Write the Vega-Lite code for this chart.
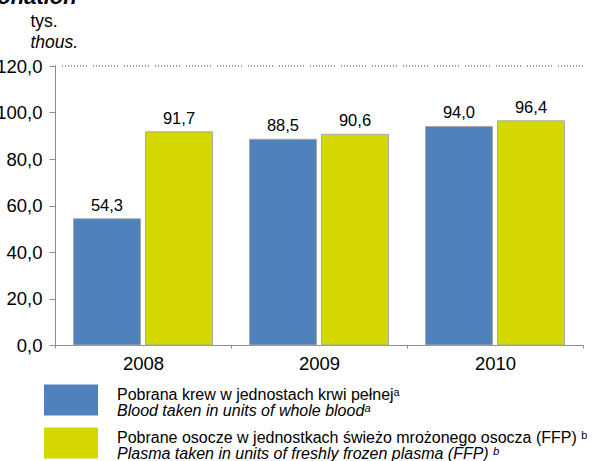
{
  "$schema": "https://vega.github.io/schema/vega-lite/v6.json",
  "width": 528,
  "height": 279,
  "autosize": {"type": "none"},
  "padding": {"left": 55, "top": 66, "right": 10, "bottom": 116},
  "title": {
    "text": "Blood donation",
    "anchor": "start",
    "align": "right",
    "dx": 81,
    "dy": -3,
    "offset": 0,
    "font": "Liberation Sans",
    "fontSize": 22,
    "fontWeight": "bold",
    "fontStyle": "italic",
    "color": "#000000"
  },
  "data": {
    "values": [
      {"year": "2008", "pl": "Pobrana krew w jednostach krwi pełnejᵃ", "en": "Blood taken in units of whole bloodᵃ", "value": 54.3},
      {"year": "2008", "pl": "Pobrane osocze w jednostkach świeżo mrożonego osocza  (FFP) ᵇ", "en": "Plasma taken in units of freshly frozen plasma (FFP) ᵇ", "value": 91.7},
      {"year": "2009", "pl": "Pobrana krew w jednostach krwi pełnejᵃ", "en": "Blood taken in units of whole bloodᵃ", "value": 88.5},
      {"year": "2009", "pl": "Pobrane osocze w jednostkach świeżo mrożonego osocza  (FFP) ᵇ", "en": "Plasma taken in units of freshly frozen plasma (FFP) ᵇ", "value": 90.6},
      {"year": "2010", "pl": "Pobrana krew w jednostach krwi pełnejᵃ", "en": "Blood taken in units of whole bloodᵃ", "value": 94.0},
      {"year": "2010", "pl": "Pobrane osocze w jednostkach świeżo mrożonego osocza  (FFP) ᵇ", "en": "Plasma taken in units of freshly frozen plasma (FFP) ᵇ", "value": 96.4}
    ]
  },
  "encoding": {
    "x": {
      "field": "year",
      "type": "nominal",
      "scale": {"paddingInner": 0, "paddingOuter": 0},
      "axis": {
        "title": null,
        "labelAngle": 0,
        "labelFont": "Liberation Sans",
        "labelFontSize": 18.5,
        "labelColor": "#000000",
        "labelPadding": 6,
        "tickBand": "extent",
        "tickSize": 3,
        "tickColor": "#8c8c8c",
        "domainColor": "#8c8c8c"
      }
    },
    "xOffset": {
      "field": "pl",
      "type": "nominal",
      "sort": ["Pobrana krew w jednostach krwi pełnejᵃ", "Pobrane osocze w jednostkach świeżo mrożonego osocza  (FFP) ᵇ"],
      "scale": {"paddingInner": 0.07, "paddingOuter": 0.257}
    }
  },
  "layer": [
    {
      "mark": {"type": "rule", "color": "#9a9a9a", "strokeWidth": 1, "strokeDash": [1, 2, 1, 2, 1, 2, 1, 2, 1, 2, 1, 2, 1, 2, 1, 2, 1, 6]},
      "encoding": {
        "x": null,
        "xOffset": null,
        "y": {
          "datum": 120,
          "type": "quantitative",
          "scale": {"domain": [0, 120], "nice": false},
          "axis": {
            "orient": "left",
            "title": "thous.",
            "titleAngle": 0,
            "titleAlign": "left",
            "titleBaseline": "alphabetic",
            "titleX": -25,
            "titleY": -19,
            "titleFont": "Liberation Sans",
            "titleFontSize": 17.5,
            "titleFontWeight": "normal",
            "titleFontStyle": "italic",
            "titleColor": "#000000",
            "labels": false,
            "ticks": false,
            "domain": false,
            "grid": false
          }
        }
      }
    },
    {
      "mark": {"type": "bar", "stroke": "#a8a8a8", "strokeWidth": 1},
      "encoding": {
        "y": {
          "field": "value",
          "type": "quantitative",
          "scale": {"domain": [0, 120], "nice": false},
          "axis": {
            "orient": "left",
            "values": [0, 20, 40, 60, 80, 100, 120],
            "format": ".1f",
            "grid": false,
            "title": "tys.",
            "titleAngle": 0,
            "titleAlign": "left",
            "titleBaseline": "alphabetic",
            "titleX": -25,
            "titleY": -40,
            "titleFont": "Liberation Sans",
            "titleFontSize": 17.5,
            "titleFontWeight": "normal",
            "titleColor": "#000000",
            "labelFont": "Liberation Sans",
            "labelFontSize": 18.5,
            "labelColor": "#000000",
            "labelPadding": 7,
            "tickSize": 6,
            "tickColor": "#8c8c8c",
            "domainColor": "#8c8c8c"
          }
        },
        "color": {
          "field": "pl",
          "type": "nominal",
          "sort": ["Pobrana krew w jednostach krwi pełnejᵃ", "Pobrane osocze w jednostkach świeżo mrożonego osocza  (FFP) ᵇ"],
          "scale": {"range": ["#4f81bd", "#d4d700"]},
          "legend": {
            "title": null,
            "orient": "none",
            "legendX": -11,
            "legendY": 307,
            "padding": 0,
            "symbolType": "M-1,-0.574L1,-0.574L1,0.574L-1,0.574Z",
            "symbolSize": 2916,
            "symbolStrokeWidth": 0,
            "labelFont": "Liberation Sans",
            "labelFontSize": 16,
            "labelColor": "#000000",
            "labelBaseline": "alphabetic",
            "labelOffset": 19,
            "labelLimit": 600,
            "rowPadding": -11
          }
        },
        "opacity": {
          "field": "en",
          "type": "nominal",
          "sort": ["Blood taken in units of whole bloodᵃ", "Plasma taken in units of freshly frozen plasma (FFP) ᵇ"],
          "scale": {"range": [1, 1]},
          "legend": {
            "title": null,
            "orient": "none",
            "legendX": -11,
            "legendY": 323,
            "padding": 0,
            "symbolType": "M-1,-0.574L1,-0.574L1,0.574L-1,0.574Z",
            "symbolSize": 2916,
            "symbolFillColor": "transparent",
            "symbolStrokeColor": "transparent",
            "symbolStrokeWidth": 0,
            "labelFont": "Liberation Sans",
            "labelFontSize": 16,
            "labelFontStyle": "italic",
            "labelColor": "#000000",
            "labelBaseline": "alphabetic",
            "labelOffset": 19,
            "labelLimit": 600,
            "rowPadding": -11
          }
        }
      }
    },
    {
      "mark": {"type": "text", "baseline": "alphabetic", "dy": -8, "font": "Liberation Sans", "fontSize": 16.5, "color": "#000000"},
      "encoding": {
        "y": {"field": "value", "type": "quantitative", "scale": {"domain": [0, 120], "nice": false}, "axis": null},
        "text": {"field": "value", "type": "quantitative", "format": ".1f"}
      }
    }
  ],
  "resolve": {"scale": {"y": "independent"}, "axis": {"y": "independent"}},
  "config": {
    "locale": {"number": {"decimal": ",", "thousands": " ", "grouping": [3], "currency": ["", " zł"]}},
    "view": {"stroke": null},
    "legend": {"padding": 0}
  }
}
